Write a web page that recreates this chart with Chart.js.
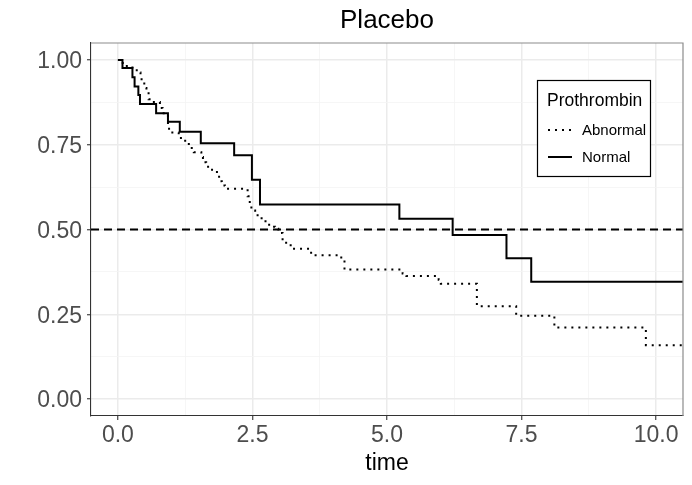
<!DOCTYPE html>
<html>
<head>
<meta charset="utf-8">
<script src="https://cdn.jsdelivr.net/npm/chart.js@4.4.0/dist/chart.umd.min.js"></script>
<style>
html, body { margin: 0; padding: 0; background: #fff; }
#wrap { width: 692px; height: 485px; }
</style>
</head>
<body>
<div id="wrap"><canvas id="km"></canvas></div>
<script>
// survival steps
var abnormalTime = [0, 0.09, 0.27, 0.40, 0.42, 0.49, 0.53, 0.57, 0.62, 0.78,
  0.83, 0.93, 0.98, 1.13, 1.25, 1.34, 1.41, 1.55, 1.58, 1.64,
  1.72, 1.84, 1.88, 1.93, 1.99, 2.41, 2.45, 2.48, 2.55, 2.67,
  2.81, 2.92, 2.98, 3.06, 3.21, 3.59, 4.15, 4.21, 5.29, 5.36,
  5.96, 6.00, 6.67, 7.40, 8.11, 9.81, 10.5];
var abnormalSurv = [1, 0.982, 0.970, 0.963, 0.943, 0.917, 0.905, 0.884, 0.876, 0.858,
  0.843, 0.797, 0.786, 0.770, 0.752, 0.740, 0.728, 0.714, 0.698, 0.685,
  0.676, 0.662, 0.642, 0.630, 0.620, 0.598, 0.571, 0.556, 0.542, 0.524,
  0.508, 0.502, 0.490, 0.461, 0.443, 0.424, 0.410, 0.382, 0.370, 0.363,
  0.352, 0.340, 0.274, 0.246, 0.211, 0.159, 0.159];
var normalTime = [0, 0.085, 0.27, 0.31, 0.38, 0.41, 0.71, 0.93, 1.15, 1.54,
  2.16, 2.49, 2.64, 5.23, 6.22, 7.22, 7.68, 10.5];
var normalSurv = [1, 0.976, 0.949, 0.922, 0.897, 0.870, 0.843, 0.818, 0.788, 0.754,
  0.719, 0.647, 0.574, 0.532, 0.484, 0.415, 0.346, 0.346];
var groupNames = ['Abnormal', 'Normal'];
var xTicks = [0, 2.5, 5, 7.5, 10];
var yTicks = [0, 0.25, 0.5, 0.75, 1];
var medianLevel = 0.5;
var xRange = [-0.5, 10.5];
var yRange = [-0.05, 1.05];

var FONT = '"Liberation Sans", Arial, sans-serif';

function toPoints(xs, ys) {
  return xs.map(function(x, i) { return { x: x, y: ys[i] }; });
}

// majors plus the minor lines half way between them
function withMinor(major) {
  var out = [];
  for (var i = 0; i < major.length; i++) {
    out.push(major[i]);
    if (i < major.length - 1) out.push((major[i] + major[i + 1]) / 2);
  }
  return out;
}

function gridFor(major) {
  return {
    color: function(c) { return major.indexOf(c.tick.value) >= 0 ? '#EBEBEB' : '#F4F4F4'; },
    lineWidth: function(c) { return major.indexOf(c.tick.value) >= 0 ? 1.5 : 0.8; },
    tickColor: function(c) { return major.indexOf(c.tick.value) >= 0 ? '#333333' : 'rgba(0,0,0,0)'; },
    tickLength: 4,
    tickWidth: 1.1
  };
}

var panelDecor = {
  id: 'panelDecor',
  afterDraw: function(chart) {
    var ctx = chart.ctx;
    var a = chart.chartArea;
    ctx.save();
    // top and right edge of the panel
    ctx.strokeStyle = '#8C8C8C';
    ctx.lineWidth = 1.2;
    ctx.beginPath();
    ctx.moveTo(a.left, a.top);
    ctx.lineTo(a.right, a.top);
    ctx.lineTo(a.right, a.bottom);
    ctx.stroke();

    // title
    ctx.fillStyle = '#000';
    ctx.font = '26px ' + FONT;
    ctx.textAlign = 'center';
    ctx.textBaseline = 'alphabetic';
    ctx.fillText('Placebo', (a.left + a.right) / 2, 28);

    // legend
    ctx.fillStyle = '#fff';
    ctx.fillRect(537, 80, 114, 97);
    ctx.strokeStyle = '#000';
    ctx.lineWidth = 1.2;
    ctx.strokeRect(537.5, 80.5, 113, 96);
    ctx.fillStyle = '#000';
    ctx.textAlign = 'left';
    ctx.font = '17.5px ' + FONT;
    ctx.fillText('Prothrombin', 547, 106);
    ctx.font = '15px ' + FONT;
    var rows = [130, 157];
    chart.data.datasets.slice(0, 2).forEach(function(ds, i) {
      ctx.strokeStyle = '#000';
      ctx.lineWidth = ds.borderWidth;
      ctx.setLineDash(ds.borderDash || []);
      ctx.beginPath();
      ctx.moveTo(548, rows[i]);
      ctx.lineTo(572, rows[i]);
      ctx.stroke();
      ctx.setLineDash([]);
      ctx.fillText(ds.label, 582, rows[i] + 5);
    });
    ctx.restore();
  }
};

new Chart(document.getElementById('km'), {
  type: 'line',
  data: {
    datasets: [{
      label: groupNames[0],
      data: toPoints(abnormalTime, abnormalSurv),
      borderColor: '#000',
      borderWidth: 2,
      borderDash: [2, 5],
      stepped: 'before',
      pointRadius: 0
    }, {
      label: groupNames[1],
      data: toPoints(normalTime, normalSurv),
      borderColor: '#000',
      borderWidth: 2,
      stepped: 'before',
      pointRadius: 0
    }, {
      label: 'median',
      data: toPoints(xRange, [medianLevel, medianLevel]),
      borderColor: '#000',
      borderWidth: 2,
      borderDash: [8, 5],
      pointRadius: 0
    }]
  },
  options: {
    responsive: true,
    maintainAspectRatio: false,
    animation: false,
    layout: { padding: { top: 43, right: 9, left: 0, bottom: 0 } },
    plugins: {
      legend: { display: false },
      title: { display: false },
      tooltip: { enabled: false }
    },
    scales: {
      x: {
        type: 'linear',
        min: xRange[0],
        max: xRange[1],
        afterBuildTicks: function(scale) {
          scale.ticks = withMinor(xTicks).map(function(v) { return { value: v }; });
        },
        afterFit: function(scale) { scale.height = 69; },
        grid: gridFor(xTicks),
        border: { color: '#333333', width: 1.1 },
        ticks: {
          autoSkip: false,
          maxRotation: 0,
          padding: 2,
          color: '#4D4D4D',
          font: { family: FONT, size: 23 },
          callback: function(v) { return xTicks.indexOf(v) >= 0 ? v.toFixed(1) : ''; }
        },
        title: {
          display: true,
          text: 'time',
          color: '#000',
          font: { family: FONT, size: 23 },
          padding: { top: 0, bottom: 8 }
        }
      },
      y: {
        type: 'linear',
        min: yRange[0],
        max: yRange[1],
        afterBuildTicks: function(scale) {
          scale.ticks = withMinor(yTicks).map(function(v) { return { value: v }; });
        },
        afterFit: function(scale) { scale.width = 91; },
        grid: gridFor(yTicks),
        border: { color: '#333333', width: 1.1 },
        ticks: {
          autoSkip: false,
          padding: 5,
          labelOffset: 2,
          color: '#4D4D4D',
          font: { family: FONT, size: 23 },
          callback: function(v) { return yTicks.indexOf(v) >= 0 ? v.toFixed(2) : ''; }
        }
      }
    }
  },
  plugins: [panelDecor]
});
</script>
</body>
</html>
